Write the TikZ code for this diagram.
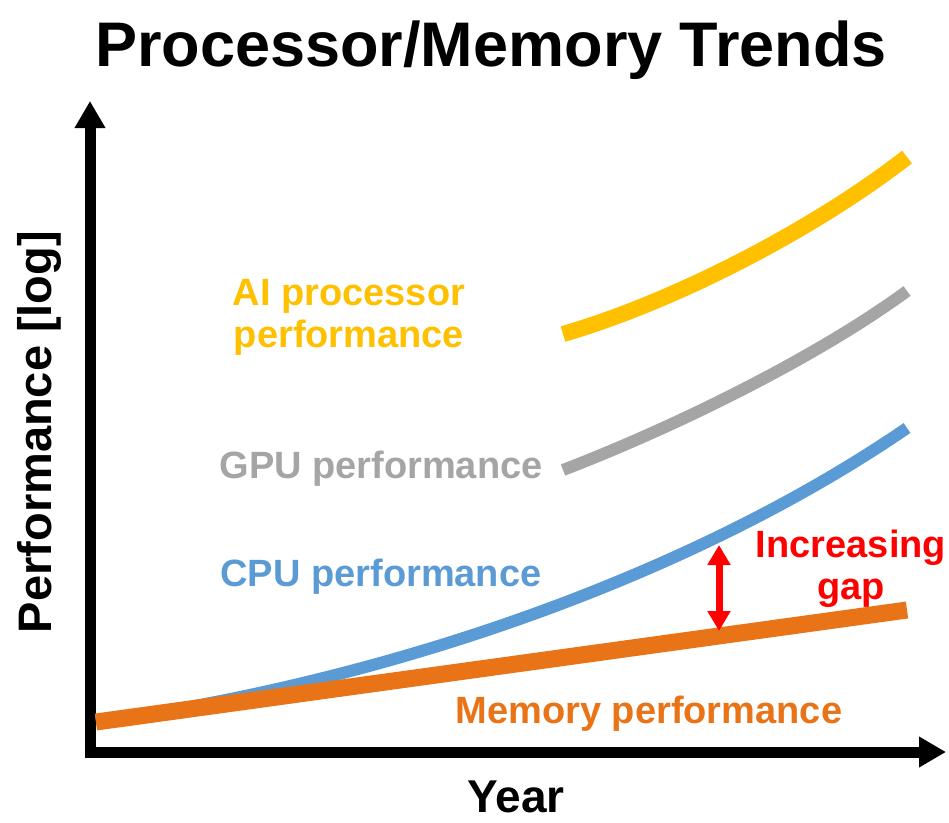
\documentclass[tikz,border=0pt]{standalone}
\usepackage{fontspec}
\setmainfont{Liberation Sans}
\usetikzlibrary{arrows.meta}
\definecolor{aiyellow}{HTML}{FFC000}
\definecolor{gpugray}{HTML}{A5A5A5}
\definecolor{cpublue}{HTML}{5B9BD5}
\definecolor{memorange}{HTML}{E97317}
\definecolor{gapred}{HTML}{FF0000}
\begin{document}
\begin{tikzpicture}[x=1pt,y=-1pt,
  lbl/.style={font=\fontsize{38}{42}\selectfont\bfseries, inner sep=0pt, align=center, anchor=base},
  axis/.style={line width=11pt, -{Triangle[width=29pt,length=27pt]}},
  trend/.style={line width=12pt}]
\useasboundingbox (0,0) rectangle (949,822);
% title
\node[font=\fontsize{63}{70}\selectfont\bfseries, inner sep=0pt, anchor=base] (title) at (491,66) {Processor/Memory Trends};
% axes
\coordinate (origin) at (90,752);
\coordinate (ytip) at (90,101);
\coordinate (xtip) at (946,752);
\coordinate (ybase) at (90,757.5);
\coordinate (xbase) at (84.5,752);
\draw[axis] (ybase) -- (ytip);
\draw[axis] (xbase) -- (xtip);
\node[font=\fontsize{46}{50}\selectfont\bfseries, inner sep=0pt, anchor=base] (year) at (516,812) {Year};
\node[font=\fontsize{47}{50}\selectfont\bfseries, inner sep=0pt, anchor=base, rotate=90] (perf) at (51,432) {Performance [log]};
% trends
\coordinate (m0) at (96,722);
\coordinate (m1) at (907,610);
\coordinate (c0) at (96,722);
\coordinate (c1) at (907,428);
\coordinate (g0) at (563,470);
\coordinate (g1) at (907,291);
\coordinate (a0) at (563,334);
\coordinate (a1) at (907,157);
\draw[trend, cpublue] (c0) .. controls (400,680) and (700,570) .. (c1);
\draw[trend, memorange, line width=17pt] (m0) -- (m1);
\draw[trend, gpugray] (g0) .. controls (680,425) and (820,355) .. (g1);
\draw[trend, aiyellow, line width=16pt] (a0) .. controls (680,300) and (820,225) .. (a1);
% gap arrow
\coordinate (gtop) at (719,545);
\coordinate (gbot) at (719,631);
\draw[gapred, line width=7pt, {Triangle[width=22pt,length=20pt]}-{Triangle[width=22pt,length=20pt]}] (gtop) -- (gbot);
% labels
\node[lbl, text=aiyellow] (ailbl) at (349,347) {AI processor\\performance};
\node[lbl, text=gpugray] (gpulbl) at (381,478) {GPU performance};
\node[lbl, text=cpublue] (cpulbl) at (381,586) {CPU performance};
\node[lbl, text=gapred] (gaplbl) at (851,599) {Increasing\\gap};
\node[lbl, text=memorange] (memlbl) at (649,723) {Memory performance};
\end{tikzpicture}
\end{document}
